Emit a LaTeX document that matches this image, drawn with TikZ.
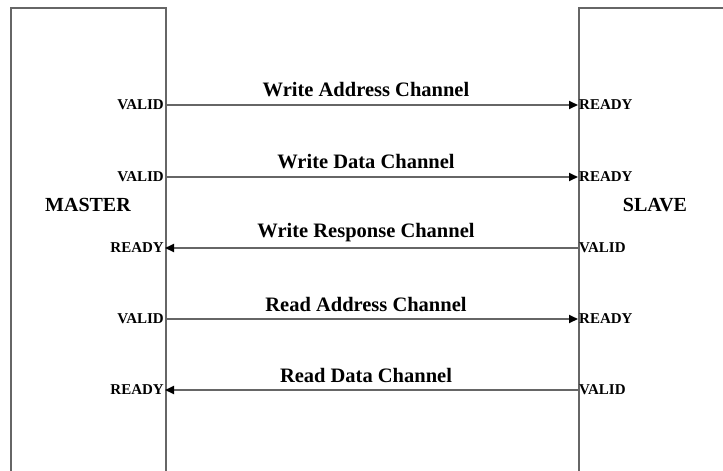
\documentclass[tikz,border=0pt]{standalone}
\usepackage{fontspec}
\setmainfont{Liberation Serif}
\usetikzlibrary{arrows.meta}
\begin{document}
\begin{tikzpicture}[x=1pt,y=-1pt,
  box/.style={draw=black!60,line width=2pt,inner sep=0pt},
  sig/.style={font=\bfseries\fontsize{15}{15}\selectfont,inner sep=1pt},
  side/.style={font=\bfseries\fontsize{20}{20}\selectfont,inner sep=0pt},
  chan/.style={font=\bfseries\fontsize{20.5}{20.5}\selectfont,inner sep=0pt},
  arr/.style={draw=black!60,line width=2pt,-{Triangle[length=9pt,width=8pt,fill=black,color=black]}}]
\useasboundingbox (0,0) rectangle (723,471);
\clip (0,0) rectangle (723,471);
\node[box,anchor=north west,minimum width=155pt,minimum height=480pt] (master) at (10,7) {};
\node[box,anchor=north west,minimum width=200pt,minimum height=480pt] (slave) at (578,7) {};
\node[side] (mname) at (88,205) {MASTER};
\node[side] (sname) at (655,205) {SLAVE};
% rows
\foreach \i/\y/\lab in {1/105/Write Address Channel,2/177/Write Data Channel,3/248/Write Response Channel,4/319/Read Address Channel,5/390/Read Data Channel}{
  \coordinate (m\i) at (165,\y);
  \coordinate (s\i) at (578,\y);
  \node[chan] (c\i) at (366,\y-15) {\lab};
}
\node[sig,anchor=east] (ml1) at (m1) {VALID};
\node[sig,anchor=west] (sl1) at (s1) {READY};
\node[sig,anchor=east] (ml2) at (m2) {VALID};
\node[sig,anchor=west] (sl2) at (s2) {READY};
\node[sig,anchor=east] (ml3) at (m3) {READY};
\node[sig,anchor=west] (sl3) at (s3) {VALID};
\node[sig,anchor=east] (ml4) at (m4) {VALID};
\node[sig,anchor=west] (sl4) at (s4) {READY};
\node[sig,anchor=east] (ml5) at (m5) {READY};
\node[sig,anchor=west] (sl5) at (s5) {VALID};
\draw[arr] (m1) -- (s1);
\draw[arr] (m2) -- (s2);
\draw[arr] (s3) -- (m3);
\draw[arr] (m4) -- (s4);
\draw[arr] (s5) -- (m5);
\end{tikzpicture}
\end{document}
